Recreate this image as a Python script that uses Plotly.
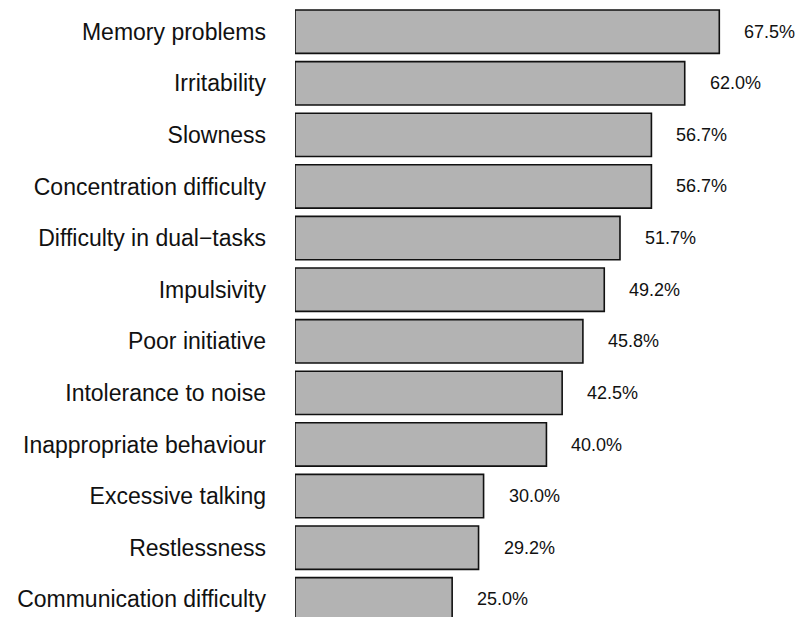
import plotly.graph_objects as go

categories = ["Memory problems", "Irritability", "Slowness", "Concentration difficulty",
              "Difficulty in dual\u2212tasks", "Impulsivity", "Poor initiative",
              "Intolerance to noise", "Inappropriate behaviour", "Excessive talking",
              "Restlessness", "Communication difficulty"]
values = [67.5, 62.0, 56.7, 56.7, 51.7, 49.2, 45.8, 42.5, 40.0, 30.0, 29.2, 25.0]
value_labels = ["67.5%", "62.0%", "56.7%", "56.7%", "51.7%", "49.2%", "45.8%",
                "42.5%", "40.0%", "30.0%", "29.2%", "25.0%"]

fig = go.Figure()
fig.add_trace(go.Bar(
    x=values, y=categories, orientation="h", width=0.84,
    marker=dict(color="#b3b3b3", line=dict(color="#111111", width=1.6)),
    hoverinfo="skip",
))

for c, v, t in zip(categories, values, value_labels):
    fig.add_annotation(x=v, y=c, text=t, showarrow=False, xanchor="left",
                       xshift=23, font=dict(size=18, color="#111111",
                                            family="Liberation Sans, Arial, sans-serif"))

fig.update_layout(
    width=800, height=617,
    margin=dict(l=295, r=0, t=0, b=0),
    paper_bgcolor="white", plot_bgcolor="white",
    showlegend=False,
    font=dict(family="Liberation Sans, Arial, sans-serif", color="#111111"),
    xaxis=dict(range=[0, 505 / 6.286], visible=False, fixedrange=True),
    yaxis=dict(type="category", categoryorder="array", categoryarray=categories,
               range=[11.343, -0.614], showgrid=False, zeroline=False, showline=False,
               ticks="", ticklabelstandoff=28, tickfont=dict(size=23, color="#111111"),
               fixedrange=True),
)

fig.write_html("out.html", config={"displayModeBar": False},
               post_script="document.body.style.margin='0px';document.body.style.overflow='hidden';")
